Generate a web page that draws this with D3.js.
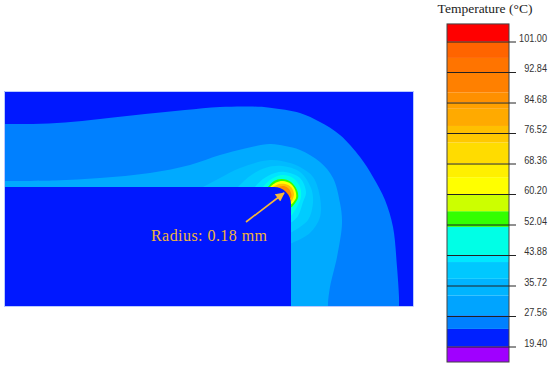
<!DOCTYPE html>
<html>
<head>
<meta charset="utf-8">
<script src="https://cdn.jsdelivr.net/npm/d3@7"></script>
<style>
  html, body { margin: 0; padding: 0; background: #fff; }
  svg { display: block; }
</style>
</head>
<body>
<div id="chart"></div>
<script>
// 1: DATA
const tickTemps = [101.00, 92.84, 84.68, 76.52, 68.36, 60.20, 52.04, 43.88, 35.72, 27.56, 19.40];

// colour key: band edges in deg C, bottom to top, one colour per band
const bandEdges = [15.25, 19.4, 24.1, 27.8, 33, 37.5, 42, 43.88, 51.4, 55.6, 60.2, 64.7, 68.36, 74, 76.52, 78.4, 83, 84.68, 87.4, 92.84, 96.6, 101, 105.7];
const bandColors = ["#a000ff", "#0020ff", "#0080ff", "#00a4ff", "#00b4ff", "#00c8ff", "#00e8ff", "#00ffe6", "#33ff00", "#ccff00", "#ffff00", "#fff000", "#ffdc00", "#ffc800", "#ffc000", "#ffaa00", "#ffa000", "#ff9000", "#ff8000", "#ff7400", "#ff6400", "#ff0000"];

// temperature contours in field units (x across, y down from top of the field)
const contourA = [[0,32],[28,32],[60,30.5],[95,27],[140,22],[180,18],[215,15],[245,14.5],[265,15.7],[295,21],[315,30],[335,43],[355,65],[368,85],[380,108],[388,135],[392,175],[394,205],[394,214]];
const contourB = [[0,89],[50,88.5],[95,86],[145,81],[185,73],[215,63],[240,56.5],[265,52],[280,54],[295,58],[315,70],[328,86],[335,111],[337,131],[332,165],[325,195],[323,211],[323,214]];
const contourC = [[198,95],[215,86],[235,76],[265,68],[285,71],[295,75],[308,85],[315,105],[315,125],[305,141],[287,151]];
const contourD = [[233,95],[245,84],[260,76],[277,74],[295,80],[306,96],[308,110],[303,128],[287,140]];
const contourE = [[250,95],[258,87],[270,81],[280,80],[295,86],[301,100],[298,110],[293,124],[287,130]];
const contourF = [[258,95],[265,88],[277,83],[288,86],[295,95],[296,105],[293,113],[287,123]];
const contourG = [[263,95],[269,89],[277,87],[286,90],[292,98],[293,106],[287,115]];
const contourH = [[265,95],[271,90.5],[278,89],[286,92],[290.5,99],[291,106],[287,112]];
const contourI = [[268,95],[274,92],[280,92],[286,95],[289,102],[287,109]];
const contourJ = [[273,95],[279,94],[284,97],[286.5,103],[286,106]];
const contours = [contourA, contourB, contourC, contourD, contourE, contourF, contourG, contourH, contourI, contourJ];
const contourColors = ["#0080ff", "#00aaff", "#00bbff", "#00ccff", "#00e4ff", "#00ffe6", "#33ff00", "#ffff00", "#ffc000", "#ff8c00"];

const fieldSize = [408, 214];
const notch = { right: 286, top: 95, radius: 17 };
const arrowLine = [[241, 130], [279, 101]];
const fieldColor = "#0018ff";

// 2: CREATE BLANK SVG
const svg = d3.select("#chart").append("svg")
    .attr("width", 550)
    .attr("height", 367);

// 3: SCALES
const xField = d3.scaleLinear().domain([0, fieldSize[0]]).range([5, 413]);
const yField = d3.scaleLinear().domain([0, fieldSize[1]]).range([92, 306]);
const yTemp = d3.scaleLinear().domain([19.4, 101]).range([346.5, 41.5]);

// 4: TEMPERATURE FIELD
svg.append("defs").append("clipPath").attr("id", "fieldClip")
    .append("rect")
    .attr("x", xField(0)).attr("y", yField(0))
    .attr("width", xField(fieldSize[0]) - xField(0))
    .attr("height", yField(fieldSize[1]) - yField(0));

const field = svg.append("g").attr("clip-path", "url(#fieldClip)");

field.append("rect")
    .attr("x", xField(0)).attr("y", yField(0))
    .attr("width", xField(fieldSize[0]) - xField(0))
    .attr("height", yField(fieldSize[1]) - yField(0))
    .attr("fill", fieldColor);

const contourLine = d3.line()
    .x(d => xField(d[0]))
    .y(d => yField(d[1]))
    .curve(d3.curveCatmullRom.alpha(0.5));

// every band closes through the bottom left corner, which the notch covers
field.selectAll("path.band")
    .data(contours)
    .join("path")
    .attr("class", "band")
    .attr("fill", (d, i) => contourColors[i])
    .attr("d", d => `${contourLine(d)}L${xField(0)},${yField(fieldSize[1])}Z`);

// the notch with its rounded corner
const notchPath = d3.path();
notchPath.moveTo(xField(0), yField(notch.top));
notchPath.arcTo(xField(notch.right), yField(notch.top), xField(notch.right), yField(fieldSize[1]), notch.radius);
notchPath.lineTo(xField(notch.right), yField(fieldSize[1]));
notchPath.lineTo(xField(0), yField(fieldSize[1]));
notchPath.closePath();
field.append("path").attr("d", notchPath.toString()).attr("fill", fieldColor);

// thin soft edge round the field
svg.append("rect")
    .attr("x", xField(0) - 0.5).attr("y", yField(0) - 0.5)
    .attr("width", xField(fieldSize[0]) - xField(0) + 1)
    .attr("height", yField(fieldSize[1]) - yField(0) + 1)
    .attr("fill", "none")
    .attr("stroke", "#9db4ff")
    .attr("stroke-width", 0.7);

// 5: ARROW AND LABEL
const arrowColor = "#f5b73a";
svg.select("defs").append("marker")
    .attr("id", "head")
    .attr("viewBox", "0 0 10 10")
    .attr("refX", 9).attr("refY", 5)
    .attr("markerUnits", "userSpaceOnUse")
    .attr("markerWidth", 10).attr("markerHeight", 9)
    .attr("orient", "auto")
    .append("path")
    .attr("d", "M0,0L10,5L0,10Z")
    .attr("fill", arrowColor);

svg.append("line")
    .attr("x1", xField(arrowLine[0][0])).attr("y1", yField(arrowLine[0][1]))
    .attr("x2", xField(arrowLine[1][0])).attr("y2", yField(arrowLine[1][1]))
    .attr("stroke", arrowColor)
    .attr("stroke-width", 1.6)
    .attr("marker-end", "url(#head)");

svg.append("text")
    .attr("x", 151).attr("y", 240.5)
    .attr("font-family", "'Liberation Serif', serif")
    .attr("font-size", 16)
    .attr("fill", "#f0b43c")
    .attr("textLength", 116)
    .text("Radius: 0.18 mm");

// 6: COLOUR KEY
const keyX = 447, keyWidth = 62;
const key = svg.append("g");

key.selectAll("rect.band")
    .data(bandColors)
    .join("rect")
    .attr("class", "band")
    .attr("x", keyX)
    .attr("width", keyWidth)
    .attr("y", (d, i) => yTemp(bandEdges[i + 1]))
    .attr("height", (d, i) => yTemp(bandEdges[i]) - yTemp(bandEdges[i + 1]))
    .attr("fill", d => d);

key.append("rect")
    .attr("x", keyX).attr("y", yTemp(bandEdges[bandEdges.length - 1]))
    .attr("width", keyWidth)
    .attr("height", yTemp(bandEdges[0]) - yTemp(bandEdges[bandEdges.length - 1]))
    .attr("fill", "none")
    .attr("stroke", "#444")
    .attr("stroke-width", 1);

const axis = svg.append("g")
    .attr("transform", `translate(${keyX},0)`)
    .call(d3.axisRight(yTemp).tickValues(tickTemps).tickFormat(d3.format(".2f")).tickSize(69));

axis.select(".domain").remove();
axis.selectAll(".tick line").attr("stroke", "#222");
// labels sit a little above their ticks and are squeezed sideways
axis.selectAll(".tick text")
    .attr("x", 0)
    .attr("y", 0)
    .attr("transform", "translate(100,-4) scale(0.83,1)")
    .attr("text-anchor", "end")
    .attr("dy", "0.32em")
    .attr("font-family", "'Liberation Sans', sans-serif")
    .attr("font-size", 11)
    .attr("fill", "#333");

svg.append("text")
    .attr("x", 485).attr("y", 13)
    .attr("text-anchor", "middle")
    .attr("font-family", "'Liberation Serif', serif")
    .attr("font-size", 13.5)
    .attr("fill", "#222")
    .text("Temperature (°C)");
</script>
</body>
</html>
